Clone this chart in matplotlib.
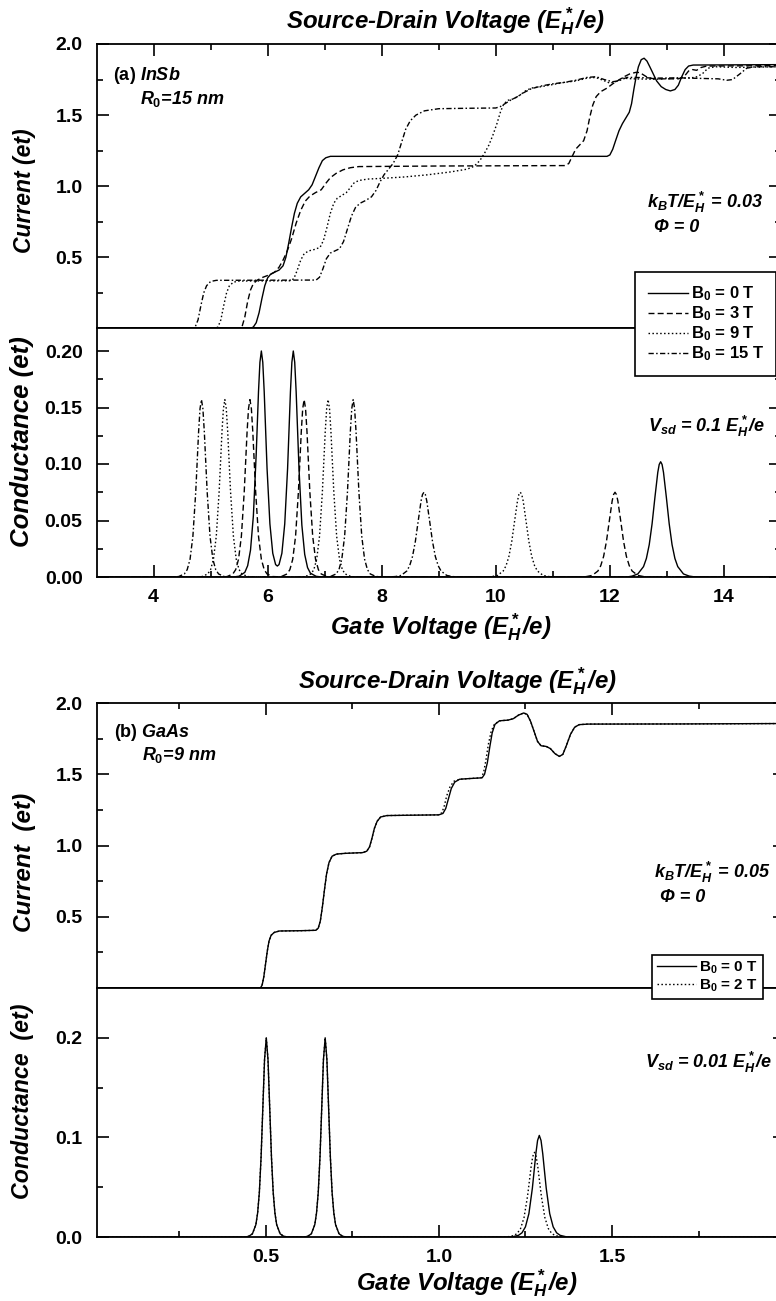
import numpy as np
import matplotlib
matplotlib.use("Agg")
import matplotlib.pyplot as plt
from matplotlib.ticker import FormatStrFormatter, FixedLocator
from matplotlib.lines import Line2D

plt.rcParams['font.family'] = ['Liberation Sans', 'DejaVu Sans']
plt.rcParams['font.weight'] = 'bold'
plt.rcParams['mathtext.fontset'] = 'custom'
plt.rcParams['mathtext.rm'] = 'Liberation Sans:bold'
plt.rcParams['mathtext.it'] = 'Liberation Sans:bold:italic'
plt.rcParams['mathtext.bf'] = 'Liberation Sans:bold'
plt.rcParams['mathtext.sf'] = 'Liberation Sans:bold'
plt.rcParams['lines.scale_dashes'] = False
plt.rcParams['axes.linewidth'] = 1.3

# ---------------- data: panel (a) InSb ----------------
labels_a = ['B$_0$ = 0 T', 'B$_0$ = 3 T', 'B$_0$ = 9 T', 'B$_0$ = 15 T']

cur_a_0T = [(3.0, 0), (5.70, 0), (5.75, 0.01), (5.80, 0.04), (5.85, 0.11), (5.90, 0.21), (5.95, 0.30),
            (6.00, 0.355), (6.05, 0.38), (6.12, 0.395), (6.20, 0.41), (6.27, 0.44), (6.32, 0.50),
            (6.37, 0.60), (6.42, 0.71), (6.47, 0.81), (6.52, 0.88), (6.58, 0.925), (6.65, 0.95),
            (6.72, 0.975), (6.78, 1.01), (6.84, 1.07), (6.90, 1.13), (6.96, 1.18), (7.02, 1.20),
            (7.10, 1.21), (11.95, 1.21), (12.00, 1.22), (12.05, 1.26), (12.10, 1.32), (12.16, 1.39),
            (12.22, 1.44), (12.28, 1.48), (12.34, 1.52), (12.38, 1.58), (12.42, 1.68), (12.46, 1.77),
            (12.50, 1.84), (12.55, 1.89), (12.60, 1.90), (12.65, 1.88), (12.70, 1.84), (12.76, 1.79),
            (12.82, 1.74), (12.90, 1.70), (12.98, 1.68), (13.06, 1.67), (13.14, 1.68), (13.20, 1.71),
            (13.26, 1.77), (13.32, 1.82), (13.38, 1.845), (13.46, 1.852), (15.0, 1.855)]

cur_a_3T = [(3.0, 0), (5.50, 0), (5.55, 0.01), (5.60, 0.08), (5.65, 0.19), (5.70, 0.27), (5.75, 0.315),
            (5.82, 0.34), (5.92, 0.36), (6.02, 0.375), (6.12, 0.395), (6.20, 0.43), (6.27, 0.48),
            (6.34, 0.54), (6.42, 0.63), (6.50, 0.74), (6.58, 0.83), (6.66, 0.895), (6.74, 0.93),
            (6.84, 0.955), (6.94, 0.975), (7.02, 1.02), (7.10, 1.06), (7.20, 1.09), (7.32, 1.115),
            (7.45, 1.13), (7.60, 1.138), (9.0, 1.142), (11.22, 1.145), (11.28, 1.16), (11.34, 1.21),
            (11.40, 1.26), (11.47, 1.29), (11.54, 1.32), (11.60, 1.39), (11.65, 1.49), (11.70, 1.57),
            (11.76, 1.63), (11.84, 1.665), (11.95, 1.69), (12.05, 1.72), (12.15, 1.745), (12.25, 1.77),
            (12.35, 1.79), (12.45, 1.80), (12.52, 1.80), (12.60, 1.78), (12.68, 1.76), (12.80, 1.755),
            (13.00, 1.755), (13.20, 1.755), (13.30, 1.77), (13.38, 1.81), (13.45, 1.82), (13.52, 1.815),
            (13.60, 1.835), (13.70, 1.845), (15.0, 1.848)]

cur_a_9T = [(3.0, 0), (5.08, 0), (5.13, 0.01), (5.18, 0.06), (5.23, 0.16), (5.28, 0.25), (5.33, 0.30),
            (5.40, 0.325), (5.50, 0.333), (6.40, 0.335), (6.46, 0.35), (6.52, 0.41), (6.58, 0.48),
            (6.64, 0.525), (6.72, 0.545), (6.82, 0.555), (6.92, 0.57), (6.98, 0.62), (7.04, 0.71),
            (7.10, 0.81), (7.16, 0.88), (7.22, 0.915), (7.30, 0.935), (7.38, 0.955), (7.45, 0.99),
            (7.52, 1.025), (7.60, 1.04), (7.75, 1.05), (8.00, 1.055), (8.40, 1.065), (8.80, 1.08),
            (9.20, 1.10), (9.50, 1.12), (9.62, 1.14), (9.72, 1.18), (9.80, 1.23), (9.88, 1.29),
            (9.95, 1.36), (10.02, 1.44), (10.08, 1.52), (10.14, 1.58), (10.22, 1.605), (10.32, 1.615),
            (10.42, 1.64), (10.52, 1.67), (10.62, 1.69), (10.80, 1.70), (11.00, 1.715), (11.20, 1.73),
            (11.40, 1.74), (11.60, 1.76), (11.75, 1.765), (11.88, 1.745), (12.00, 1.725), (12.10, 1.735),
            (12.22, 1.76), (12.40, 1.755), (12.80, 1.752), (13.10, 1.758), (13.30, 1.76), (13.50, 1.765),
            (13.62, 1.79), (13.72, 1.83), (13.85, 1.84), (14.2, 1.835), (15.0, 1.84)]

cur_a_15T = [(3.0, 0), (4.68, 0), (4.73, 0.01), (4.78, 0.06), (4.83, 0.16), (4.88, 0.25), (4.93, 0.30),
             (5.00, 0.33), (5.10, 0.338), (6.85, 0.34), (6.91, 0.36), (6.97, 0.42), (7.03, 0.49),
             (7.10, 0.53), (7.18, 0.545), (7.26, 0.56), (7.33, 0.61), (7.40, 0.70), (7.47, 0.79),
             (7.54, 0.85), (7.62, 0.88), (7.72, 0.90), (7.82, 0.925), (7.90, 0.97), (7.97, 1.03),
             (8.04, 1.08), (8.12, 1.12), (8.20, 1.16), (8.28, 1.22), (8.35, 1.31), (8.42, 1.40),
             (8.50, 1.46), (8.60, 1.50), (8.75, 1.53), (9.00, 1.545), (9.50, 1.548), (10.00, 1.55),
             (10.08, 1.56), (10.16, 1.58), (10.26, 1.605), (10.38, 1.63), (10.50, 1.66), (10.62, 1.685),
             (10.80, 1.705), (11.00, 1.72), (11.20, 1.73), (11.40, 1.745), (11.60, 1.765), (11.76, 1.77),
             (11.90, 1.75), (12.05, 1.735), (12.15, 1.74), (12.30, 1.765), (12.45, 1.765), (12.80, 1.76),
             (13.20, 1.762), (13.60, 1.758), (13.90, 1.755), (14.05, 1.745), (14.15, 1.75), (14.28, 1.79),
             (14.40, 1.83), (14.55, 1.84), (15.0, 1.84)]

cond_a_0T = [(3.0, 0), (5.4, 0), (5.5, 0.0007), (5.6, 0.0041), (5.65, 0.0100), (5.7, 0.0238), (5.75, 0.054),
             (5.8, 0.109), (5.84, 0.164), (5.865, 0.190), (5.89, 0.200), (5.915, 0.190), (5.94, 0.164),
             (5.99, 0.096), (6.04, 0.047), (6.09, 0.021), (6.14, 0.011), (6.17, 0.0097), (6.2, 0.011),
             (6.25, 0.021), (6.3, 0.047), (6.35, 0.096), (6.4, 0.164), (6.425, 0.190), (6.45, 0.200),
             (6.475, 0.190), (6.5, 0.164), (6.55, 0.096), (6.6, 0.046), (6.65, 0.020), (6.7, 0.0083),
             (6.75, 0.0034), (6.85, 0.0006), (6.95, 0), (12.3, 0), (12.39, 0.0008), (12.49, 0.0027),
             (12.59, 0.0092), (12.64, 0.0164), (12.69, 0.0286), (12.74, 0.0471), (12.79, 0.0706),
             (12.84, 0.0926), (12.865, 0.0996), (12.89, 0.102), (12.915, 0.0996), (12.94, 0.0926),
             (12.99, 0.0706), (13.04, 0.0471), (13.09, 0.0286), (13.14, 0.0164), (13.19, 0.0092),
             (13.29, 0.0027), (13.39, 0.0008), (13.5, 0), (15.0, 0)]

cond_a_3T = [(3.0, 0), (5.19, 0), (5.29, 0.0004), (5.39, 0.0027), (5.44, 0.0065), (5.49, 0.0157),
             (5.54, 0.0361), (5.59, 0.0755), (5.64, 0.1286), (5.665, 0.149), (5.69, 0.157), (5.715, 0.149),
             (5.74, 0.1286), (5.79, 0.0755), (5.84, 0.0361), (5.89, 0.0157), (5.94, 0.0065), (5.99, 0.0027),
             (6.09, 0.0004), (6.19, 0.0002), (6.24, 0.0004), (6.34, 0.0027), (6.39, 0.0065), (6.44, 0.0157),
             (6.49, 0.0361), (6.54, 0.0755), (6.59, 0.1286), (6.615, 0.149), (6.64, 0.157), (6.665, 0.149),
             (6.69, 0.1286), (6.74, 0.0755), (6.79, 0.0361), (6.84, 0.0157), (6.89, 0.0065), (6.94, 0.0027),
             (7.04, 0.0004), (7.14, 0), (11.49, 0), (11.59, 0.0004), (11.69, 0.0014), (11.79, 0.0053),
             (11.84, 0.0100), (11.89, 0.0182), (11.94, 0.0315), (11.99, 0.0496), (12.04, 0.0673),
             (12.065, 0.073), (12.09, 0.075), (12.115, 0.073), (12.14, 0.0673), (12.19, 0.0496),
             (12.24, 0.0315), (12.29, 0.0182), (12.34, 0.0100), (12.39, 0.0053), (12.49, 0.0014),
             (12.59, 0.0004), (12.69, 0), (15.0, 0)]

cond_a_9T = [(3.0, 0), (4.75, 0), (4.85, 0.0004), (4.95, 0.0027), (5.00, 0.0065), (5.05, 0.0157),
             (5.10, 0.0361), (5.15, 0.0755), (5.20, 0.1286), (5.225, 0.149), (5.25, 0.157), (5.275, 0.149),
             (5.30, 0.1286), (5.35, 0.0755), (5.40, 0.0361), (5.45, 0.0157), (5.50, 0.0065), (5.55, 0.0027),
             (5.65, 0.0004), (5.75, 0), (6.56, 0), (6.66, 0.0004), (6.76, 0.0027), (6.81, 0.0065),
             (6.86, 0.0157), (6.91, 0.0361), (6.96, 0.0755), (7.01, 0.1286), (7.035, 0.149), (7.06, 0.157),
             (7.085, 0.149), (7.11, 0.1286), (7.16, 0.0755), (7.21, 0.0361), (7.26, 0.0157), (7.31, 0.0065),
             (7.36, 0.0027), (7.46, 0.0004), (7.56, 0), (9.83, 0), (9.93, 0.0004), (10.03, 0.0014),
             (10.13, 0.0053), (10.18, 0.0100), (10.23, 0.0182), (10.28, 0.0315), (10.33, 0.0496),
             (10.38, 0.0673), (10.405, 0.073), (10.43, 0.075), (10.455, 0.073), (10.48, 0.0673),
             (10.53, 0.0496), (10.58, 0.0315), (10.63, 0.0182), (10.68, 0.0100), (10.73, 0.0053),
             (10.83, 0.0014), (10.93, 0.0004), (11.03, 0), (15.0, 0)]

cond_a_15T = [(3.0, 0), (4.34, 0), (4.44, 0.0004), (4.54, 0.0027), (4.59, 0.0065), (4.64, 0.0157),
              (4.69, 0.0361), (4.74, 0.0755), (4.79, 0.1286), (4.815, 0.149), (4.84, 0.157), (4.865, 0.149),
              (4.89, 0.1286), (4.94, 0.0755), (4.99, 0.0361), (5.04, 0.0157), (5.09, 0.0065), (5.14, 0.0027),
              (5.24, 0.0004), (5.34, 0), (7.00, 0), (7.10, 0.0004), (7.20, 0.0027), (7.25, 0.0065),
              (7.30, 0.0157), (7.35, 0.0361), (7.40, 0.0755), (7.45, 0.1286), (7.475, 0.149), (7.50, 0.157),
              (7.525, 0.149), (7.55, 0.1286), (7.60, 0.0755), (7.65, 0.0361), (7.70, 0.0157), (7.75, 0.0065),
              (7.80, 0.0027), (7.90, 0.0004), (8.14, 0.0001), (8.24, 0.0004), (8.34, 0.0014), (8.44, 0.0053),
              (8.49, 0.0100), (8.54, 0.0182), (8.59, 0.0315), (8.64, 0.0496), (8.69, 0.0673), (8.715, 0.073),
              (8.74, 0.075), (8.765, 0.073), (8.79, 0.0673), (8.84, 0.0496), (8.89, 0.0315), (8.94, 0.0182),
              (8.99, 0.0100), (9.04, 0.0053), (9.14, 0.0014), (9.24, 0.0004), (9.34, 0), (15.0, 0)]

# ---------------- data: panel (b) GaAs ----------------
labels_b = ['B$_0$ = 0 T', 'B$_0$ = 2 T']

cur_b_0T = [(0.012, 0), (0.485, 0), (0.490, 0.02), (0.495, 0.08), (0.500, 0.17), (0.505, 0.26),
            (0.510, 0.33), (0.516, 0.37), (0.525, 0.39), (0.540, 0.40), (0.600, 0.402), (0.645, 0.405),
            (0.652, 0.42), (0.658, 0.47), (0.664, 0.57), (0.670, 0.69), (0.676, 0.80), (0.683, 0.88),
            (0.692, 0.925), (0.705, 0.94), (0.730, 0.945), (0.780, 0.95), (0.792, 0.96), (0.800, 0.99),
            (0.807, 1.05), (0.814, 1.12), (0.822, 1.17), (0.832, 1.20), (0.850, 1.21), (0.900, 1.212),
            (1.000, 1.215), (1.012, 1.225), (1.020, 1.26), (1.028, 1.33), (1.036, 1.40), (1.046, 1.445),
            (1.060, 1.465), (1.090, 1.47), (1.125, 1.475), (1.132, 1.50), (1.140, 1.58), (1.147, 1.69),
            (1.154, 1.79), (1.162, 1.85), (1.175, 1.875), (1.200, 1.88), (1.215, 1.89), (1.230, 1.915),
            (1.245, 1.93), (1.255, 1.92), (1.265, 1.87), (1.275, 1.80), (1.285, 1.73), (1.295, 1.70),
            (1.310, 1.695), (1.322, 1.68), (1.335, 1.645), (1.348, 1.625), (1.358, 1.64), (1.368, 1.70),
            (1.380, 1.78), (1.392, 1.83), (1.405, 1.848), (1.430, 1.852), (1.700, 1.853), (2.000, 1.856)]

cur_b_2T = [(0.012, 0), (0.485, 0), (0.490, 0.02), (0.495, 0.08), (0.500, 0.17), (0.505, 0.26),
            (0.510, 0.33), (0.516, 0.37), (0.525, 0.39), (0.540, 0.40), (0.600, 0.402), (0.645, 0.405),
            (0.652, 0.42), (0.658, 0.47), (0.664, 0.57), (0.670, 0.69), (0.676, 0.80), (0.683, 0.88),
            (0.692, 0.925), (0.705, 0.94), (0.730, 0.945), (0.780, 0.95), (0.792, 0.96), (0.800, 0.99),
            (0.807, 1.05), (0.814, 1.12), (0.822, 1.17), (0.832, 1.20), (0.850, 1.21), (0.900, 1.212),
            (0.998, 1.215), (1.009, 1.23), (1.016, 1.28), (1.023, 1.35), (1.032, 1.41), (1.043, 1.45),
            (1.060, 1.465), (1.090, 1.47), (1.122, 1.475), (1.129, 1.51), (1.136, 1.60), (1.143, 1.71),
            (1.151, 1.80), (1.160, 1.85), (1.175, 1.875), (1.200, 1.88), (1.215, 1.89), (1.230, 1.915),
            (1.245, 1.93), (1.255, 1.92), (1.265, 1.87), (1.275, 1.80), (1.285, 1.73), (1.295, 1.70),
            (1.310, 1.695), (1.322, 1.68), (1.335, 1.645), (1.348, 1.625), (1.358, 1.64), (1.368, 1.70),
            (1.380, 1.78), (1.392, 1.83), (1.405, 1.848), (1.430, 1.852), (1.700, 1.853), (2.000, 1.856)]

cond_b_0T = [(0.012, 0), (0.442, 0), (0.452, 0.0008), (0.462, 0.0032), (0.472, 0.0124), (0.477, 0.024),
             (0.482, 0.0447), (0.487, 0.080), (0.492, 0.129), (0.497, 0.178), (0.502, 0.200), (0.507, 0.178),
             (0.512, 0.129), (0.517, 0.080), (0.522, 0.0447), (0.527, 0.024), (0.532, 0.0124), (0.542, 0.0032),
             (0.552, 0.0008), (0.562, 0), (0.612, 0), (0.622, 0.0008), (0.632, 0.0032), (0.642, 0.0124),
             (0.647, 0.024), (0.652, 0.0447), (0.657, 0.080), (0.662, 0.129), (0.667, 0.178), (0.672, 0.200),
             (0.677, 0.178), (0.682, 0.129), (0.687, 0.080), (0.692, 0.0447), (0.697, 0.024), (0.702, 0.0124),
             (0.712, 0.0032), (0.722, 0.0008), (0.732, 0), (1.21, 0), (1.23, 0.0017), (1.24, 0.0042),
             (1.25, 0.0102), (1.26, 0.0235), (1.27, 0.049), (1.275, 0.0661), (1.28, 0.0835), (1.285, 0.0969),
             (1.29, 0.102), (1.295, 0.0969), (1.30, 0.0835), (1.305, 0.0661), (1.31, 0.049), (1.32, 0.0235),
             (1.33, 0.0102), (1.34, 0.0042), (1.35, 0.0017), (1.37, 0), (2.0, 0)]

cond_b_2T = [(0.012, 0), (0.442, 0), (0.452, 0.0008), (0.462, 0.0032), (0.472, 0.0124), (0.477, 0.024),
             (0.482, 0.0447), (0.487, 0.080), (0.492, 0.129), (0.497, 0.178), (0.502, 0.200), (0.507, 0.178),
             (0.512, 0.129), (0.517, 0.080), (0.522, 0.0447), (0.527, 0.024), (0.532, 0.0124), (0.542, 0.0032),
             (0.552, 0.0008), (0.562, 0), (0.612, 0), (0.622, 0.0008), (0.632, 0.0032), (0.642, 0.0124),
             (0.647, 0.024), (0.652, 0.0447), (0.657, 0.080), (0.662, 0.129), (0.667, 0.178), (0.672, 0.200),
             (0.677, 0.178), (0.682, 0.129), (0.687, 0.080), (0.692, 0.0447), (0.697, 0.024), (0.702, 0.0124),
             (0.712, 0.0032), (0.722, 0.0008), (0.732, 0), (1.196, 0), (1.216, 0.0014), (1.226, 0.0035),
             (1.236, 0.0085), (1.246, 0.0196), (1.256, 0.0409), (1.261, 0.0551), (1.266, 0.0696),
             (1.271, 0.0808), (1.276, 0.085), (1.281, 0.0808), (1.286, 0.0696), (1.291, 0.0551),
             (1.296, 0.0409), (1.306, 0.0196), (1.316, 0.0085), (1.326, 0.0035), (1.336, 0.0014),
             (1.356, 0), (2.0, 0)]

# ---------------- styles ----------------
STY_SOLID = dict(ls='-')
STY_DASH = dict(ls=(0, (4.3, 2.3)))
STY_DOT = dict(ls=(0, (1.1, 1.7)))
STY_DASHDOT = dict(ls=(0, (3.8, 1.7, 1.1, 1.7)))
LW = 1.0
TICK_FS = 14

W, H = 776.0, 1301.0
fig = plt.figure(figsize=(W / 100, H / 100), dpi=100)


def fx(px):
    return px / W


def fy(py):
    return 1 - py / H


def add_ax(left, right, top, bottom):
    return fig.add_axes([fx(left), fy(bottom), (right - left) / W, (bottom - top) / H])


def style_ax(ax, upper):
    ax.tick_params(which='both', direction='in', left=True, right=True,
                   top=upper, bottom=not upper, labelbottom=not upper,
                   labelleft=True, labelsize=TICK_FS)
    ax.tick_params(which='major', length=8.5, width=1.2)
    ax.tick_params(which='minor', length=4.5, width=1.2)
    ax.tick_params(axis='y', which='major', pad=10)
    ax.tick_params(axis='x', which='major', pad=8.5)


def plot_pairs(ax, pairs, sty):
    arr = np.array(pairs, dtype=float)
    ax.plot(arr[:, 0], arr[:, 1], color='black', lw=LW, **sty)


styles_a = [STY_SOLID, STY_DASH, STY_DOT, STY_DASHDOT]
styles_b = [STY_SOLID, STY_DOT]

# ---- panel (a) ----
axa1 = add_ax(96.5, 781, 44, 328.4)
axa2 = add_ax(96.5, 781, 328.4, 577)
for pairs, sty in zip([cur_a_0T, cur_a_3T, cur_a_9T, cur_a_15T], styles_a):
    plot_pairs(axa1, pairs, sty)
for pairs, sty in zip([cond_a_0T, cond_a_3T, cond_a_9T, cond_a_15T], styles_a):
    plot_pairs(axa2, pairs, sty)
for ax in (axa1, axa2):
    ax.set_xlim(3, 15)
    ax.xaxis.set_major_locator(FixedLocator([4, 6, 8, 10, 12, 14]))
    ax.xaxis.set_minor_locator(FixedLocator([5, 7, 9, 11, 13]))
axa1.set_ylim(0, 2.0)
axa1.yaxis.set_major_locator(FixedLocator([0.5, 1.0, 1.5, 2.0]))
axa1.yaxis.set_minor_locator(FixedLocator([0.25, 0.75, 1.25, 1.75]))
axa1.yaxis.set_major_formatter(FormatStrFormatter('%.1f'))
axa2.set_ylim(0, 0.22)
axa2.yaxis.set_major_locator(FixedLocator([0, 0.05, 0.10, 0.15, 0.20]))
axa2.yaxis.set_minor_locator(FixedLocator([0.025, 0.075, 0.125, 0.175]))
axa2.yaxis.set_major_formatter(FormatStrFormatter('%.2f'))
style_ax(axa1, True)
style_ax(axa2, False)

# ---- panel (b) ----
axb1 = add_ax(96.5, 785.3, 703, 988)
axb2 = add_ax(96.5, 785.3, 988, 1237)
for pairs, sty in zip([cur_b_0T, cur_b_2T], styles_b):
    plot_pairs(axb1, pairs, sty)
for pairs, sty in zip([cond_b_0T, cond_b_2T], styles_b):
    plot_pairs(axb2, pairs, sty)
for ax in (axb1, axb2):
    ax.set_xlim(0.012, 2.0)
    ax.xaxis.set_major_locator(FixedLocator([0.5, 1.0, 1.5]))
    ax.xaxis.set_minor_locator(FixedLocator([0.25, 0.75, 1.25, 1.75]))
    ax.xaxis.set_major_formatter(FormatStrFormatter('%.1f'))
axb1.set_ylim(0, 2.0)
axb1.yaxis.set_major_locator(FixedLocator([0.5, 1.0, 1.5, 2.0]))
axb1.yaxis.set_minor_locator(FixedLocator([0.25, 0.75, 1.25, 1.75]))
axb1.yaxis.set_major_formatter(FormatStrFormatter('%.1f'))
axb2.set_ylim(0, 0.25)
axb2.yaxis.set_major_locator(FixedLocator([0, 0.1, 0.2]))
axb2.yaxis.set_minor_locator(FixedLocator([0.05, 0.15]))
axb2.yaxis.set_major_formatter(FormatStrFormatter('%.1f'))
style_ax(axb1, True)
style_ax(axb2, False)

# ---- texts ----
BI = dict(fontweight='bold', fontstyle='italic', color='black')


def ftext(x, y, s, size, ha='left', va='baseline', rot=0, **kw):
    d = dict(BI)
    d.update(kw)
    fig.text(fx(x), fy(y), s, fontsize=size, ha=ha, va=va, rotation=rot, **d)


ftext(445, 28, 'Source-Drain Voltage ($E_H^*$/e)', 17.3, ha='center')
ftext(441, 634, 'Gate Voltage ($E_H^*$/e)', 17.3, ha='center')
ftext(25, 191, 'Current (et)', 16.5, ha='center', va='center', rot=90)
ftext(22, 442, 'Conductance (et)', 18.5, ha='center', va='center', rot=90)

ftext(457, 688, 'Source-Drain Voltage ($E_H^*$/e)', 17.3, ha='center')
ftext(467, 1290, 'Gate Voltage ($E_H^*$/e)', 17.3, ha='center')
ftext(24, 862, 'Current  (et)', 17.5, ha='center', va='center', rot=90)
ftext(23, 1101, 'Conductance  (et)', 16.7, ha='center', va='center', rot=90)

ftext(113, 80, '(a) $InSb$', 13, fontstyle='normal')
ftext(140, 104, '$R_0$=15 nm', 13)
ftext(763, 208, '$k_B$T/$E_H^*$ = 0.03', 13, ha='right')
ftext(654, 232, '\u03a6 = 0', 13)
ftext(765, 432, '$V_{sd}$ = 0.1 $E_H^*$/e', 13, ha='right')

ftext(114, 737, '(b) $GaAs$', 13, fontstyle='normal')
ftext(142, 760, '$R_0$=9 nm', 13)
ftext(770, 878, '$k_B$T/$E_H^*$ = 0.05', 13, ha='right')
ftext(660, 902, '\u03a6 = 0', 13)
ftext(772, 1068, '$V_{sd}$ = 0.01 $E_H^*$/e', 13, ha='right')


# ---- legends ----
def make_legend(labels, styles, x, y, size, bpad, lspace, hlen):
    handles = [Line2D([], [], color='black', lw=LW, **s) for s in styles]
    leg = fig.legend(handles, labels, loc='upper left', bbox_to_anchor=(fx(x), fy(y)),
                     bbox_transform=fig.transFigure, frameon=True, fancybox=False,
                     framealpha=1, edgecolor='black', borderaxespad=0, borderpad=bpad,
                     handlelength=hlen, handletextpad=0.2, labelspacing=lspace,
                     prop=dict(size=size, weight='bold'))
    leg.get_frame().set_linewidth(1.2)
    return leg


make_legend(labels_a, styles_a, 635, 272, 12, 0.75, 0.08, 2.4)
make_legend(labels_b, styles_b, 652, 955, 11, 0.3, 0.12, 2.6)

fig.savefig('out.png', dpi=100)
